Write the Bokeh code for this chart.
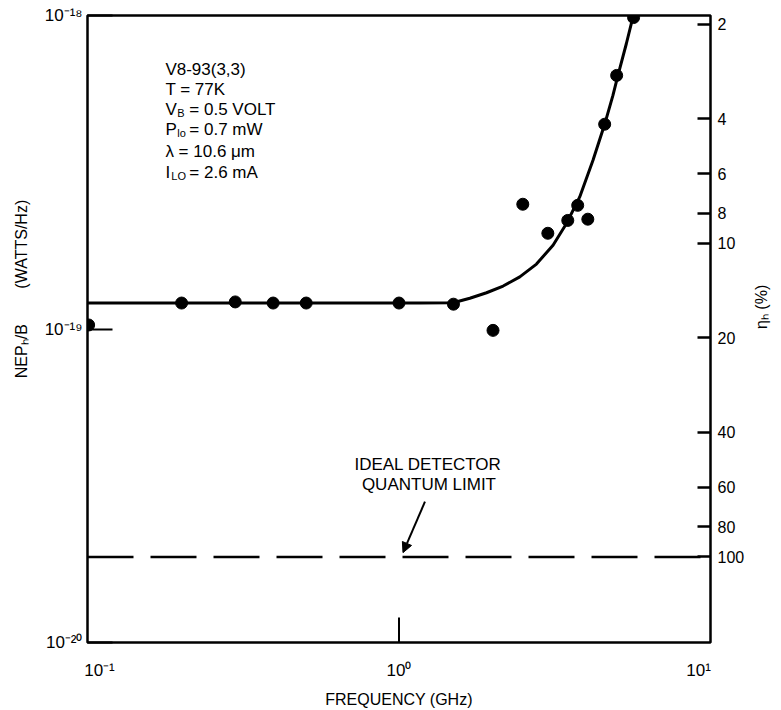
import numpy as np
from bokeh.plotting import figure
from bokeh.models import (Range1d, LogScale, LogAxis, FixedTicker, Label, Arrow,
                          NormalHead, Span, PrintfTickFormatter)
from bokeh.embed import file_html
from bokeh.resources import INLINE

# ---------------- data ----------------
freq_pts = [0.092, 0.188, 0.284, 0.38, 0.49, 1.0, 1.52, 2.06, 2.59, 3.14, 3.66, 3.95, 4.27, 4.86, 5.33, 6.07]
nep_pts = [1.03e-19, 1.21e-19, 1.22e-19, 1.21e-19, 1.21e-19, 1.21e-19, 1.20e-19, 0.99e-19,
           2.50e-19, 2.02e-19, 2.22e-19, 2.48e-19, 2.24e-19, 4.50e-19, 6.44e-19, 9.85e-19]

freq_fit = [0.0912, 0.47, 1.175, 1.517, 1.724, 1.96, 2.227, 2.531, 2.877, 3.268, 3.624, 4.012,
            4.443, 4.86, 5.179, 5.383, 5.741, 6.039, 6.214]
nep_fit = [1.21e-19, 1.21e-19, 1.21e-19, 1.213e-19, 1.253e-19, 1.305e-19, 1.371e-19, 1.467e-19,
           1.611e-19, 1.851e-19, 2.171e-19, 2.638e-19, 3.453e-19, 4.497e-19, 5.561e-19, 6.44e-19,
           8.126e-19, 9.876e-19, 1.076e-18]

ideal_nep = 1.874e-20          # h*nu at 10.6 um  (eta = 100 %)
eta_ticks = [2, 4, 6, 8, 10, 20, 40, 60, 80, 100]
y_ticks = [1e-20, 1e-19, 1e-18]
y_tick_labels = ["10\u207b\u00b2\u2070", "10\u207b\u00b9\u2079", "10\u207b\u00b9\u2078"]
x_ticks = [0.1, 1.0, 10.0]
x_tick_labels = ["10\u207b\u00b9", "10\u2070", "10\u00b9"]
x_inner_ticks = [1.0]

NB = "\u00a0"
y_title = NB * 18 + "NEP\u2095/B" + NB * 8 + "(WATTS/Hz)"
eta_title = "\u03b7\u2095" + NB + "(%)"
x_title = "FREQUENCY (GHz)"

info_lines = [
    ("V8-93(3,3)", None, None),
    ("T = 77K", None, None),
    ("V", "B", "= 0.5 VOLT"),
    ("P", "lo", "= 0.7 mW"),
    ("\u03bb = 10.6 \u03bcm", None, None),
    ("I", "LO", "= 2.6 mA"),
]

# ---------------- geometry ----------------
W, H = 781, 710
L, R, T, B = 87, 711, 15, 643
XL0, XL1 = -1.04, 1.04
FONT = "Liberation Sans"


def sx(px):
    return 10 ** (XL0 + (px - L) / (R - L) * (XL1 - XL0))


def sy(py):
    return 10 ** (-18 - (py - T) / (B - T) * 2)


def eta_at(py):
    return ideal_nep / sy(py) * 100


p = figure(width=W, height=H, x_axis_type="log", y_axis_type="log",
           x_range=Range1d(10 ** XL0, 10 ** XL1), y_range=Range1d(1e-20, 1e-18),
           output_backend="svg", toolbar_location=None,
           min_border_left=L, min_border_right=W - R, min_border_top=T, min_border_bottom=H - B)
p.grid.visible = False
p.outline_line_color = "black"
p.outline_line_width = 2.5
p.background_fill_color = "white"
p.border_fill_color = "white"


def style_title(ax, standoff):
    ax.axis_label_text_font = FONT
    ax.axis_label_text_font_size = "16px"
    ax.axis_label_text_font_style = "normal"
    ax.axis_label_text_color = "black"
    ax.axis_label_standoff = standoff


# left axis
ya = p.yaxis[0]
ya.ticker = FixedTicker(ticks=y_ticks, minor_ticks=[])
ya.major_label_overrides = dict(zip(y_ticks, y_tick_labels))
ya.major_tick_in = 25
ya.major_tick_out = 0
ya.major_tick_line_width = 2
ya.axis_line_color = None
ya.major_label_standoff = 5
ya.major_label_text_font = FONT
ya.major_label_text_font_size = "17px"
ya.major_label_text_color = "black"
ya.axis_label = y_title
style_title(ya, 12)

# bottom axis (labels only; the inner tick at 1 GHz drawn as a ray)
xa = p.xaxis[0]
xa.ticker = FixedTicker(ticks=x_ticks, minor_ticks=[])
xa.major_label_overrides = dict(zip(x_ticks, x_tick_labels))
xa.major_tick_in = 0
xa.major_tick_out = 0
xa.axis_line_color = None
xa.major_label_standoff = 18
xa.major_label_text_font = FONT
xa.major_label_text_font_size = "17px"
xa.major_label_text_color = "black"
xa.axis_label = x_title
style_title(xa, 8)

# right axis: eta (%) = h*nu / NEP * 100
p.extra_y_ranges = {"eta": Range1d(ideal_nep / 1e-20 * 100, ideal_nep / 1e-18 * 100)}
p.extra_y_scales = {"eta": LogScale()}
ra = LogAxis(y_range_name="eta", ticker=FixedTicker(ticks=eta_ticks, minor_ticks=[]),
             formatter=PrintfTickFormatter(format="%d"))
ra.major_tick_in = 13
ra.major_tick_out = 0
ra.major_tick_line_width = 2.5
ra.axis_line_color = None
ra.major_label_standoff = 7
ra.major_label_text_font = FONT
ra.major_label_text_font_size = "16px"
ra.major_label_text_color = "black"
ra.axis_label = eta_title
style_title(ra, 14)
ra.bounds = (eta_at(20), eta_at(720))
if hasattr(ra, "axis_label_orientation"):
    ra.axis_label_orientation = np.pi / 2
p.add_layout(ra, "right")

# data
p.line(freq_fit, nep_fit, line_width=3, color="black")
p.scatter(freq_pts, nep_pts, size=12, color="black")
p.add_layout(Span(location=ideal_nep, dimension="width", line_color="black",
                  line_width=2.5, line_dash="46 17"))
p.ray(x=x_inner_ticks, y=[1e-20] * len(x_inner_ticks), length=25, length_units="screen",
      angle=np.pi / 2, line_width=2, color="black")


def lab(px, py, text, size=16, align="left", angle=0.0):
    p.add_layout(Label(x=sx(px), y=sy(py), text=text, text_font=FONT,
                       text_font_size=f"{size}px", text_align=align,
                       text_baseline="middle", angle=angle, text_color="black"))


# info block
line_y = [69, 89, 109, 129, 151, 172]
for (main, sub, rest), yc in zip(info_lines, line_y):
    lab(165, yc, main, 17, "left")
    if sub is not None:
        if main == "I":
            sxp, rxp = 171, 189
        else:
            sxp, rxp = 177, 189
        lab(sxp, yc + 4, sub, 11, "left")
        lab(rxp, yc, rest, 17, "left")

# ideal detector annotation
lab(428, 465, "IDEAL DETECTOR", 17, "center")
lab(429, 485, "QUANTUM LIMIT", 17, "center")
p.add_layout(Arrow(x_start=sx(425), y_start=sy(502), x_end=sx(403), y_end=sy(553),
                   line_width=2, line_color="black",
                   end=NormalHead(size=10, fill_color="black", line_color="black")))

open("out.html", "w").write(file_html(p, INLINE))
